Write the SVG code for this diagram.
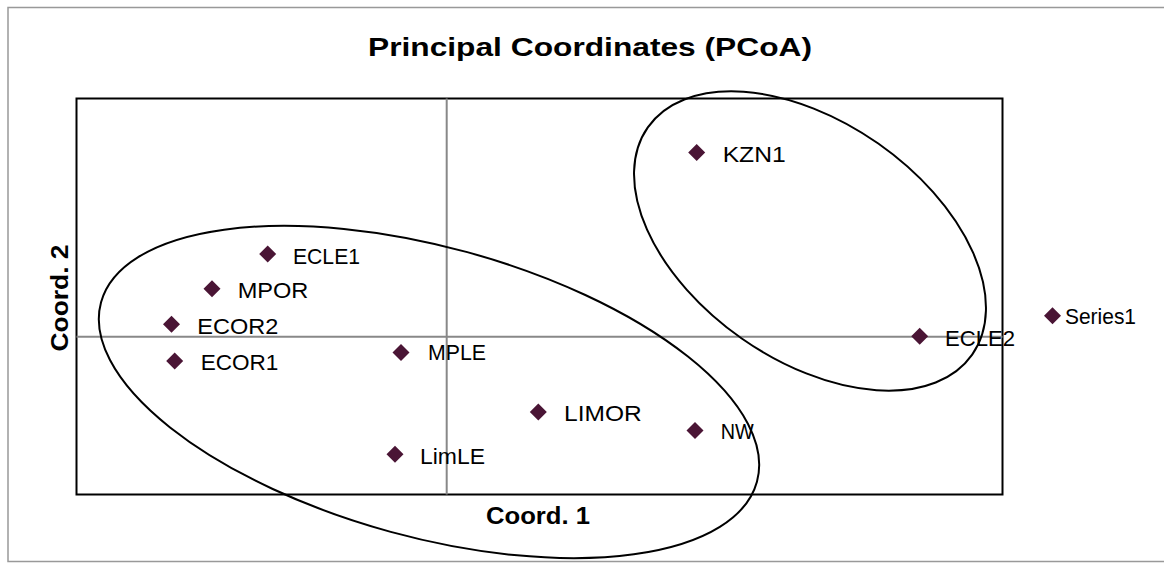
<svg xmlns="http://www.w3.org/2000/svg" width="1164" height="563" viewBox="0 0 1164 563">
<style>
.lbl{font-family:"Liberation Sans",Arial,sans-serif;font-size:22.5px;fill:#000}
.ttl{font-family:"Liberation Sans",Arial,sans-serif;font-weight:bold;fill:#000}
.pt{fill:#4a1535}
.ell{fill:none;stroke:#000;stroke-width:2}
</style>
<defs>
<path id="dm" d="M0,-8.5 L8.5,0 L0,8.5 L-8.5,0 Z"/>
</defs>
<rect x="0" y="0" width="1164" height="563" fill="#fff"/>
<rect x="8" y="7.5" width="1200" height="554" fill="#fff" stroke="#999" stroke-width="1.5"/>
<text class="ttl" x="590" y="56" font-size="26" text-anchor="middle" textLength="444" lengthAdjust="spacingAndGlyphs">Principal Coordinates (PCoA)</text>
<g id="plot">
<rect x="76.5" y="98.5" width="926" height="396" fill="#fff" stroke="#000" stroke-width="2"/>
<line x1="76.5" y1="336.7" x2="1002.5" y2="336.7" stroke="#888" stroke-width="2"/>
<line x1="446.7" y1="98.5" x2="446.7" y2="494.5" stroke="#888" stroke-width="2"/>
</g>
<text class="ttl" x="538" y="524" font-size="23" text-anchor="middle" textLength="104" lengthAdjust="spacingAndGlyphs">Coord. 1</text>
<text class="ttl" font-size="23" text-anchor="middle" transform="translate(68,298) rotate(-90)" textLength="107" lengthAdjust="spacingAndGlyphs">Coord. 2</text>
<g id="connectors">
<ellipse class="ell" cx="429" cy="392" rx="340" ry="145" transform="rotate(15.3 429 392)"/>
<ellipse class="ell" cx="810" cy="241" rx="198" ry="119" transform="rotate(35 810 241)"/>
</g>
<g id="KZN1"><use href="#dm" class="pt" x="696.7" y="152.5"/><text class="lbl" x="722.7" y="161.7" textLength="63" lengthAdjust="spacingAndGlyphs">KZN1</text></g>
<g id="ECLE1"><use href="#dm" class="pt" x="267.7" y="254"/><text class="lbl" x="293" y="264" textLength="67" lengthAdjust="spacingAndGlyphs">ECLE1</text></g>
<g id="MPOR"><use href="#dm" class="pt" x="212" y="288.7"/><text class="lbl" x="237.7" y="298" textLength="70.7" lengthAdjust="spacingAndGlyphs">MPOR</text></g>
<g id="ECOR2"><use href="#dm" class="pt" x="171.5" y="324.3"/><text class="lbl" x="197.3" y="334" textLength="81" lengthAdjust="spacingAndGlyphs">ECOR2</text></g>
<g id="ECOR1"><use href="#dm" class="pt" x="174.7" y="361"/><text class="lbl" x="200.7" y="370" textLength="77.7" lengthAdjust="spacingAndGlyphs">ECOR1</text></g>
<g id="MPLE"><use href="#dm" class="pt" x="401" y="352.5"/><text class="lbl" x="428" y="359.5" textLength="58" lengthAdjust="spacingAndGlyphs">MPLE</text></g>
<g id="LIMOR"><use href="#dm" class="pt" x="538.3" y="412"/><text class="lbl" x="564" y="420.7" textLength="77.7" lengthAdjust="spacingAndGlyphs">LIMOR</text></g>
<g id="NW"><use href="#dm" class="pt" x="695" y="430.5"/><text class="lbl" x="720.7" y="439.3" textLength="33" lengthAdjust="spacingAndGlyphs">NW</text></g>
<g id="LimLE"><use href="#dm" class="pt" x="395" y="454.3"/><text class="lbl" x="420" y="464" textLength="65" lengthAdjust="spacingAndGlyphs">LimLE</text></g>
<g id="ECLE2"><use href="#dm" class="pt" x="919.7" y="336.3"/><text class="lbl" x="945" y="346" textLength="70" lengthAdjust="spacingAndGlyphs">ECLE2</text></g>
<g id="legend"><use href="#dm" class="pt" x="1052.5" y="315.8"/><text class="lbl" x="1065" y="324.3" font-size="20" textLength="71" lengthAdjust="spacingAndGlyphs">Series1</text></g>
</svg>
